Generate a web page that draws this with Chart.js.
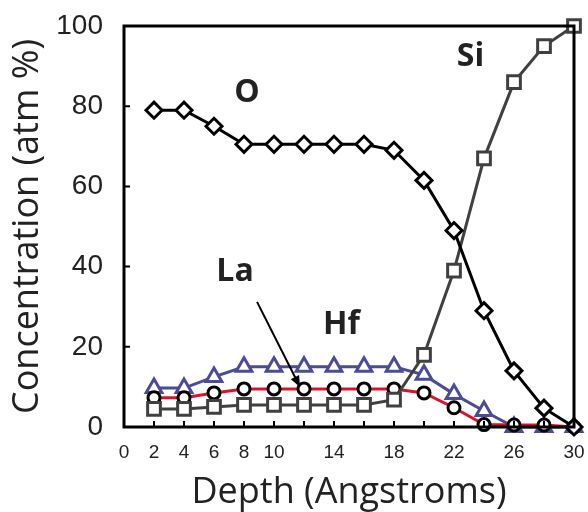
<!DOCTYPE html>
<html>
  <head>
    <title>Depth profile</title>
    <script src="https://cdn.jsdelivr.net/npm/chart.js@4.4.0/dist/chart.umd.min.js"></script>
    <style>
      body { margin: 0; background: #fff; }
      #wrap { width: 588px; height: 512px; }
    </style>
  </head>
  <body>
    <div id="wrap"><canvas id="profile" width="588" height="512"></canvas></div>
    <script>
      // depth points (Angstroms)
      var depth = [2, 4, 6, 8, 10, 12, 14, 16, 18, 20, 22, 24, 26, 28, 30];
      // concentrations, atm %
      var oxygen   = [79, 79, 75, 70.5, 70.5, 70.5, 70.5, 70.5, 69, 61.5, 49, 29, 14, 4.7, 0];
      var silicon  = [4.5, 4.5, 5, 5.5, 5.5, 5.5, 5.5, 5.5, 6.8, 18, 39, 67, 86, 95, 100];
      var hafnium  = [9.7, 9.7, 12.5, 15, 15, 15, 15, 15, 15, 13, 8.2, 4, 0, 0, 0];
      var lanthanum = [7.3, 7.3, 8.5, 9.5, 9.5, 9.5, 9.5, 9.5, 9.5, 8.5, 4.8, 0.6, 0.5, 0.5, 0];
      // x tick labels that are printed
      var xLabels = [0, 2, 4, 6, 8, 10, 14, 18, 22, 26, 30];
      var yLabels = [0, 20, 40, 60, 80, 100];
      // text labels placed in data units
      var notes = [
        { text: "O", x: 8.2, y: 83.3 },
        { text: "Si", x: 23.1, y: 92.3 },
        { text: "La", x: 7.4, y: 38.7 },
        { text: "Hf", x: 14.5, y: 25.4 }
      ];
      var arrow = { from: [8.87, 31.2], to: [11.73, 10] };

      function pts(vals) {
        return depth.map(function (d, i) { return { x: d, y: vals[i] }; });
      }

      var decor = {
        id: "decor",
        afterDatasetsDraw: function (chart) {
          var ctx = chart.ctx, a = chart.chartArea;
          var xs = chart.scales.x, ys = chart.scales.y;
          ctx.save();
          // frame
          ctx.strokeStyle = "#000";
          ctx.lineWidth = 3;
          ctx.strokeRect(a.left, a.top, a.right - a.left, a.bottom - a.top);
          // inward tick marks
          ctx.lineWidth = 2;
          ctx.beginPath();
          xs.ticks.forEach(function (t) {
            var px = xs.getPixelForValue(t.value);
            ctx.moveTo(px, a.bottom);
            ctx.lineTo(px, a.bottom - 6);
          });
          ys.ticks.forEach(function (t) {
            var py = ys.getPixelForValue(t.value);
            ctx.moveTo(a.left, py);
            ctx.lineTo(a.left + 6, py);
          });
          ctx.stroke();
          // labels
          ctx.fillStyle = "#222";
          ctx.font = "bold 32px 'Open Sans'";
          ctx.textAlign = "center";
          ctx.textBaseline = "middle";
          notes.forEach(function (n) {
            ctx.fillText(n.text, xs.getPixelForValue(n.x), ys.getPixelForValue(n.y));
          });
          // arrow to La curve
          var x1 = xs.getPixelForValue(arrow.from[0]), y1 = ys.getPixelForValue(arrow.from[1]);
          var x2 = xs.getPixelForValue(arrow.to[0]), y2 = ys.getPixelForValue(arrow.to[1]);
          var ang = Math.atan2(y2 - y1, x2 - x1);
          ctx.strokeStyle = "#000";
          ctx.lineWidth = 2;
          ctx.beginPath();
          ctx.moveTo(x1, y1);
          ctx.lineTo(x2 - 6 * Math.cos(ang), y2 - 6 * Math.sin(ang));
          ctx.stroke();
          ctx.fillStyle = "#000";
          ctx.beginPath();
          ctx.moveTo(x2, y2);
          ctx.lineTo(x2 - 12 * Math.cos(ang - 0.4), y2 - 12 * Math.sin(ang - 0.4));
          ctx.lineTo(x2 - 12 * Math.cos(ang + 0.4), y2 - 12 * Math.sin(ang + 0.4));
          ctx.closePath();
          ctx.fill();
          ctx.restore();
        }
      };

      var ctx = document.getElementById("profile").getContext("2d");
      var chart = new Chart(ctx, {
        type: "line",
        data: {
          datasets: [
            {
              label: "O",
              data: pts(oxygen),
              borderColor: "#000",
              borderWidth: 3,
              pointStyle: "rectRot",
              pointRadius: 8,
              pointBorderWidth: 3,
              pointBackgroundColor: "#fff",
              pointBorderColor: "#000",
              order: 1
            },
            {
              label: "Si",
              data: pts(silicon),
              borderColor: "#404040",
              borderWidth: 3,
              pointStyle: "rect",
              pointRadius: 9,
              pointBorderWidth: 3,
              pointBackgroundColor: "#fff",
              pointBorderColor: "#404040",
              order: 2
            },
            {
              label: "La",
              data: pts(lanthanum),
              borderColor: "#e0102a",
              borderWidth: 3,
              pointStyle: "circle",
              pointRadius: 6,
              pointBorderWidth: 3,
              pointBackgroundColor: "#fff",
              pointBorderColor: "#000",
              order: 3
            },
            {
              label: "Hf",
              data: pts(hafnium),
              borderColor: "#4b4b9b",
              borderWidth: 3,
              pointStyle: "triangle",
              pointRadius: 9,
              pointBorderWidth: 3,
              pointBackgroundColor: "#fff",
              pointBorderColor: "#4b4b9b",
              order: 4
            }
          ]
        },
        options: {
          responsive: false,
          animation: false,
          clip: false,
          elements: { line: { tension: 0 } },
          layout: { padding: { top: 26, right: 14, left: 0, bottom: 0 } },
          plugins: { legend: { display: false }, tooltip: { enabled: false } },
          scales: {
            x: {
              type: "linear",
              min: 0,
              max: 30,
              grid: { display: false, drawTicks: false },
              border: { display: false },
              afterFit: function (s) {
                s.height = 85;
                s.paddingLeft = 0;
                s.paddingRight = 0;
              },
              afterBuildTicks: function (s) {
                s.ticks = [];
                for (var v = 0; v <= 30; v += 2) s.ticks.push({ value: v });
              },
              ticks: {
                autoSkip: false,
                maxRotation: 0,
                padding: 14,
                color: "#222",
                font: { family: "'Liberation Sans'", size: 19 },
                callback: function (v) { return xLabels.indexOf(v) >= 0 ? String(v) : ""; }
              },
              title: {
                display: true,
                text: "Depth (Angstroms)",
                color: "#222",
                font: { family: "'Open Sans'", size: 36, lineHeight: 1 },
                padding: { top: 0, bottom: 1 }
              }
            },
            y: {
              min: 0,
              max: 100,
              grid: { display: false, drawTicks: false },
              border: { display: false },
              afterFit: function (s) {
                s.width = 124;
                s.paddingTop = 0;
                s.paddingBottom = 0;
              },
              afterBuildTicks: function (s) {
                s.ticks = yLabels.map(function (v) { return { value: v }; });
              },
              ticks: {
                padding: 21,
                color: "#222",
                font: { family: "'Liberation Sans'", size: 28 }
              },
              title: {
                display: true,
                text: "Concentration (atm %)",
                color: "#222",
                font: { family: "'Open Sans'", size: 36, lineHeight: 1 },
                padding: { top: 10, bottom: 0 }
              }
            }
          }
        },
        plugins: [decor]
      });
    </script>
  </body>
</html>
